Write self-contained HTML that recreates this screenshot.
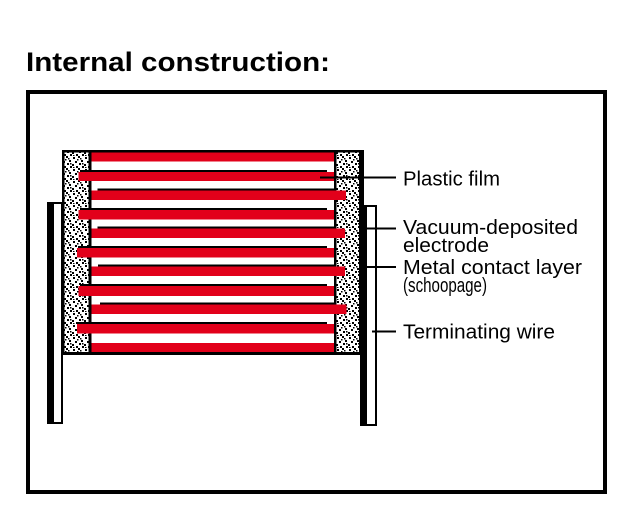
<!DOCTYPE html>
<html>
<head>
<meta charset="utf-8">
<style>
  html,body{margin:0;padding:0;background:#fff;}
  svg{display:block;}
  text{font-family:"Liberation Sans",sans-serif;}
</style>
</head>
<body>
<svg width="628" height="506" viewBox="0 0 628 506" xmlns="http://www.w3.org/2000/svg">
  <defs>
    <pattern id="dots" x="0" y="0" width="12" height="12" patternUnits="userSpaceOnUse">
      <rect width="12" height="12" fill="#fff"/>
      <rect x="1" y="1" width="2" height="2" fill="#000"/>
      <rect x="6" y="0" width="2" height="2" fill="#000"/>
      <rect x="9" y="4" width="2" height="2" fill="#000"/>
      <rect x="3" y="5" width="2" height="2" fill="#000"/>
      <rect x="0" y="8" width="2" height="2" fill="#000"/>
      <rect x="7" y="7" width="2" height="2" fill="#000"/>
      <rect x="10" y="10" width="2" height="2" fill="#000"/>
      <rect x="4" y="10" width="2" height="2" fill="#000"/>
      <rect x="8" y="2" width="1.5" height="1.5" fill="#000"/>
      <rect x="5" y="3" width="1.5" height="1.5" fill="#000"/>
      <rect x="1" y="11" width="1.5" height="1" fill="#000"/>
      <rect x="10" y="7" width="1.5" height="1.5" fill="#000"/>
    </pattern>
  </defs>

  <!-- Title -->
  <text x="26" y="71" font-size="27" font-weight="bold" textLength="304" lengthAdjust="spacingAndGlyphs">Internal construction:</text>

  <!-- Outer frame -->
  <rect x="28" y="92" width="577" height="400" fill="none" stroke="#000" stroke-width="4"/>

  <!-- Left wire -->
  <rect x="47" y="202" width="16" height="222" fill="#fff"/>
  <rect x="47" y="202" width="7" height="222" fill="#000"/>
  <rect x="47" y="202" width="16" height="2" fill="#000"/>
  <rect x="61" y="202" width="2" height="222" fill="#000"/>
  <rect x="47" y="422" width="16" height="2" fill="#000"/>

  <!-- Right wire -->
  <rect x="360" y="205" width="17" height="221" fill="#fff"/>
  <rect x="360" y="205" width="7" height="221" fill="#000"/>
  <rect x="360" y="205" width="17" height="2" fill="#000"/>
  <rect x="375" y="205" width="2" height="221" fill="#000"/>
  <rect x="360" y="424" width="17" height="2" fill="#000"/>

  <!-- Body -->
  <rect x="62" y="150" width="302" height="205" fill="#fff"/>
  <!-- left end cap -->
  <rect x="64.5" y="152" width="24" height="200" fill="url(#dots)"/>
  <rect x="62" y="150" width="2.5" height="205" fill="#000"/>
  <rect x="88.5" y="150" width="3" height="205" fill="#000"/>
  <!-- right end cap -->
  <rect x="336.5" y="152" width="22.5" height="200" fill="url(#dots)"/>
  <rect x="334" y="150" width="2.5" height="205" fill="#000"/>
  <rect x="359" y="150" width="5" height="205" fill="#000"/>
  <!-- top/bottom borders -->
  <rect x="62" y="150" width="302" height="2.5" fill="#000"/>
  <rect x="62" y="352" width="302" height="3" fill="#000"/>

  <!-- Top and bottom plates -->
  <rect x="91.5" y="152.5" width="242.5" height="9" fill="#e2001a"/>
  <rect x="91.5" y="343" width="242.5" height="9" fill="#e2001a"/>

  <!-- A plates (extend left) -->
  <g>
    <rect x="80" y="170" width="247" height="2" fill="#000"/>
    <rect x="78.5" y="172" width="255.5" height="9" fill="#e2001a"/>
    <rect x="80" y="208" width="247" height="2" fill="#000"/>
    <rect x="78.5" y="210" width="255.5" height="9.5" fill="#e2001a"/>
    <rect x="78" y="246" width="249" height="2" fill="#000"/>
    <rect x="77" y="248" width="257" height="9.5" fill="#e2001a"/>
    <rect x="80" y="284" width="247" height="2" fill="#000"/>
    <rect x="78.5" y="286" width="255.5" height="10" fill="#e2001a"/>
    <rect x="78" y="322" width="249" height="2" fill="#000"/>
    <rect x="77" y="324" width="257" height="9.5" fill="#e2001a"/>
  </g>

  <!-- B plates (extend right) -->
  <g>
    <rect x="97.5" y="188.5" width="236.5" height="2" fill="#000"/>
    <rect x="91.5" y="190.5" width="254.5" height="9.5" fill="#e2001a"/>
    <rect x="97.5" y="226.5" width="236.5" height="2" fill="#000"/>
    <rect x="91.5" y="228.5" width="253.5" height="9.5" fill="#e2001a"/>
    <rect x="98" y="264.5" width="236" height="2" fill="#000"/>
    <rect x="91.5" y="266.5" width="253.5" height="9.5" fill="#e2001a"/>
    <rect x="100" y="302.5" width="234" height="2" fill="#000"/>
    <rect x="91.5" y="304.5" width="255" height="9.5" fill="#e2001a"/>
  </g>

  <!-- Leader lines -->
  <g stroke="#000" stroke-width="2">
    <line x1="320" y1="177.5" x2="396" y2="177.5"/>
    <line x1="364" y1="228.5" x2="396" y2="228.5"/>
    <line x1="364" y1="267" x2="396" y2="267"/>
    <line x1="372" y1="331.5" x2="396" y2="331.5"/>
  </g>

  <!-- Labels -->
  <g font-size="20" fill="#000">
    <text x="403" y="185.5" textLength="97" lengthAdjust="spacingAndGlyphs">Plastic film</text>
    <text x="403" y="234" textLength="175" lengthAdjust="spacingAndGlyphs">Vacuum-deposited</text>
    <text x="403" y="252" textLength="86" lengthAdjust="spacingAndGlyphs">electrode</text>
    <text x="403" y="274" textLength="179" lengthAdjust="spacingAndGlyphs">Metal contact layer</text>
    <text x="403" y="292" textLength="84" lengthAdjust="spacingAndGlyphs">(schoopage)</text>
    <text x="403" y="338.5" textLength="152" lengthAdjust="spacingAndGlyphs">Terminating wire</text>
  </g>
</svg>
</body>
</html>
